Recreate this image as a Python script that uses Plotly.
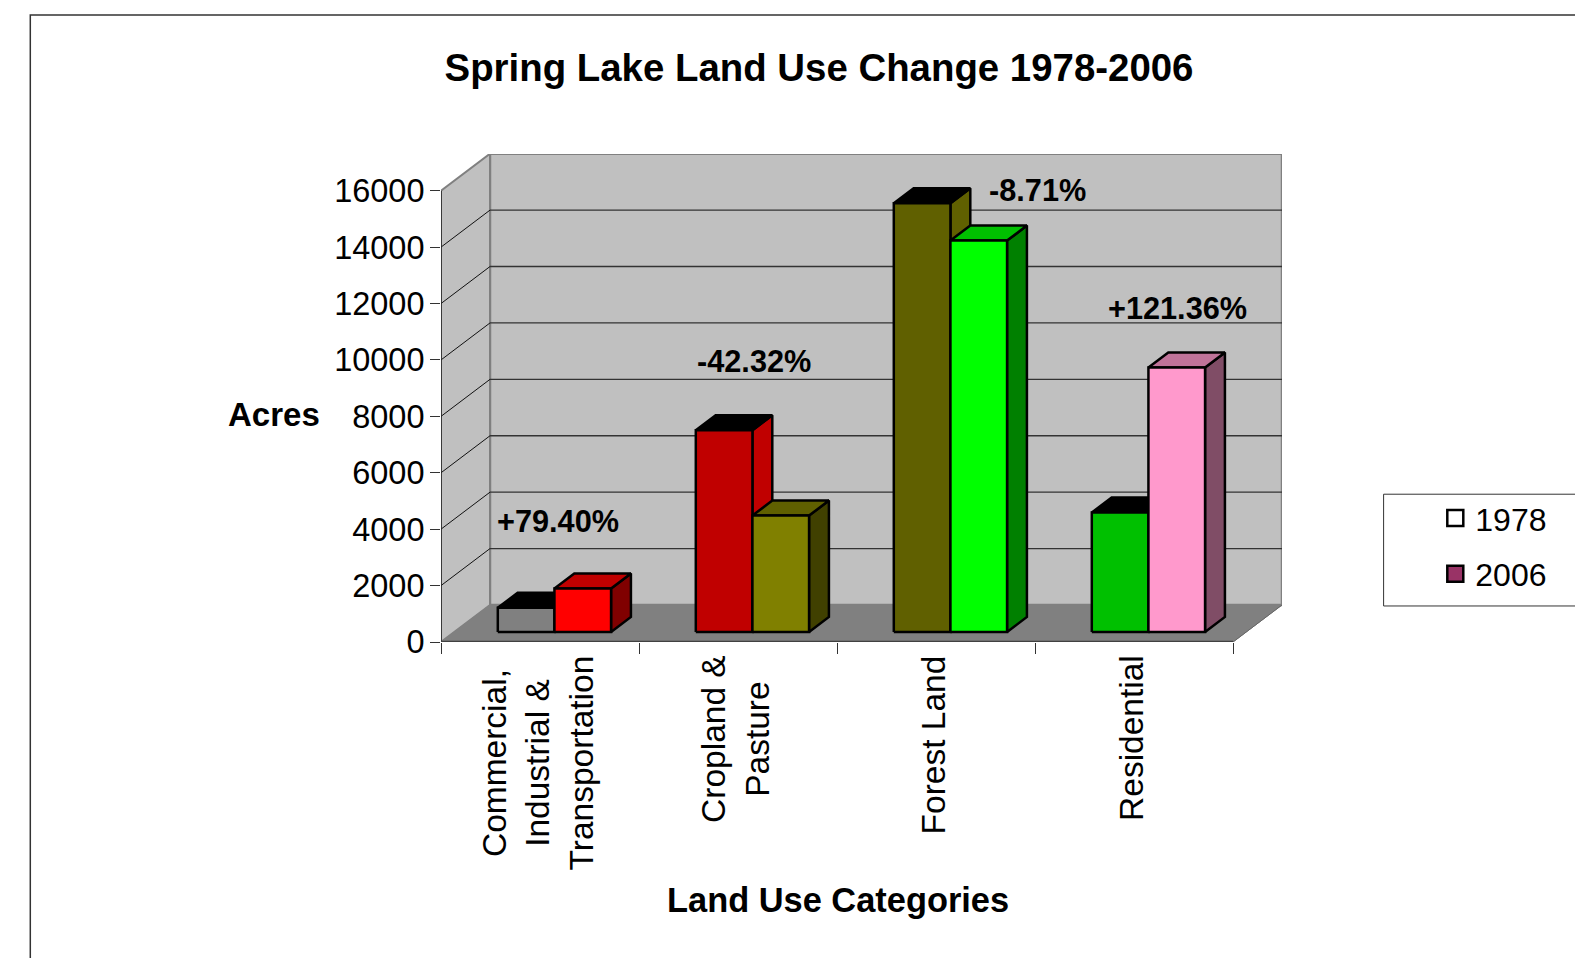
import plotly.graph_objects as go

# ---- data ----
categories = ["Commercial,<br>Industrial &<br>Transportation", "Cropland &<br>Pasture", "Forest Land", "Residential"]
values_1978 = [860, 7156, 15200, 4236]
values_2006 = [1543, 4128, 13876, 9377]
change_labels = ["+79.40%", "-42.32%", "-8.71%", "+121.36%"]
y_ticks = [0, 2000, 4000, 6000, 8000, 10000, 12000, 14000, 16000]
series_names = ["1978", "2006"]

# face colours per category: (front, top, side)
colors_1978 = [("#808080", "#000000", "#000000"), ("#C00000", "#000000", "#C00000"),
               ("#606000", "#000000", "#606000"), ("#00C000", "#000000", "#00C000")]
colors_2006 = [("#FF0000", "#C00000", "#800000"), ("#808000", "#606000", "#404000"),
               ("#00FF00", "#00C000", "#008000"), ("#FF99CC", "#C07399", "#804D66")]
legend_colors = ["#FFFFFF", "#993366"]

# ---- layout geometry (page pixels) ----
L, R, T, B = 440.7, 1281.7, 154.0, 641.7   # plot area incl. depth
CAT_PX = 198.0
VAL_PER_PX = 16000 / 451.0
DX = 49 / CAT_PX                # wall depth in category units
DY = 37 * VAL_PER_PX            # wall depth in value units
D0, D1 = 10 / 37, 25 / 37       # bar depth range (fraction of wall depth)
GAP, W = 0.22, 0.286            # bar offset and width in category units
FONT = "Liberation Sans, Arial, sans-serif"

def paper_x(p): return (p - L) / (R - L)
def paper_y(p): return (B - p) / (B - T)

fig = go.Figure()

def poly(xs, ys, fill, line="#000000", width=2.5):
    fig.add_trace(go.Scatter(x=xs + xs[:1], y=ys + ys[:1], mode="lines", fill="toself",
                             fillcolor=fill, line=dict(color=line, width=width),
                             hoverinfo="skip", showlegend=False, cliponaxis=False))

def seg(xs, ys, color, width):
    fig.add_trace(go.Scatter(x=xs, y=ys, mode="lines", line=dict(color=color, width=width),
                             hoverinfo="skip", showlegend=False, cliponaxis=False))

top_v = y_ticks[-1]
# walls and floor
poly([DX, 4 + DX, 4 + DX, DX], [DY, DY, top_v + DY, top_v + DY], "#C0C0C0", "#808080", 2.5)
poly([0, DX, DX, 0], [0, DY, top_v + DY, top_v], "#C0C0C0", "#808080", 2)
poly([0, 4, 4 + DX, DX], [0, 0, DY, DY], "#808080", "#808080", 1)

# gridlines
for v in y_ticks[1:-1]:
    seg([DX, 4 + DX], [v + DY, v + DY], "#333333", 1.3)
    seg([0, DX], [v, v + DY], "#111111", 1)
seg([4, 4 + DX], [0, DY], "#666666", 1)
seg([0, 0], [0, top_v], "#222222", 1.5)
seg([0, 4], [0, 0], "#404040", 2.5)

# 3-D bars, every face projected from the data values
def bar(i, s, val, cols):
    x0 = i + GAP + s * W + D0 * DX
    x1 = x0 + W
    b = D0 * DY
    ox = (D1 - D0) * DX
    oy = (D1 - D0) * DY
    front, top, side = cols
    poly([x1, x1 + ox, x1 + ox, x1], [b, b + oy, b + val + oy, b + val], side)
    poly([x0, x1, x1 + ox, x0 + ox], [b + val, b + val, b + val + oy, b + val + oy], top)
    poly([x0, x1, x1, x0], [b, b, b + val, b + val], front)

for i in range(len(categories)):
    bar(i, 0, values_1978[i], colors_1978[i])
    bar(i, 1, values_2006[i], colors_2006[i])

# legend entries
for k, name in enumerate(series_names):
    fig.add_trace(go.Scatter(x=[None], y=[None], mode="markers", name=name, legendgroup=name,
                             marker=dict(symbol="square", size=16, color=legend_colors[k],
                                         line=dict(color="#000000", width=2.5))))

ann = []
# category labels
for i, c in enumerate(categories):
    ann.append(dict(x=i + 0.5 - 0.012, y=paper_y(653), xref="x", yref="paper", text=c, textangle=-90,
                    showarrow=False, xanchor="center", yanchor="top", align="center",
                    font=dict(size=33.5, color="#000000", family=FONT)))
# change labels
label_px = [(558, 521.7), (753.4, 361.6), (1037, 190), (1177.5, 308.5)]
for t, (px, py) in zip(change_labels, label_px):
    ann.append(dict(x=paper_x(px), y=paper_y(py), xref="paper", yref="paper", text="<b>%s</b>" % t,
                    showarrow=False, xanchor="center", yanchor="middle",
                    font=dict(size=30.7, color="#000000", family=FONT)))
ann.append(dict(x=paper_x(274), y=paper_y(414), xref="paper", yref="paper", text="<b>Acres</b>",
                showarrow=False, xanchor="center", yanchor="middle",
                font=dict(size=33, color="#000000", family=FONT)))
ann.append(dict(x=paper_x(838), y=paper_y(900), xref="paper", yref="paper", text="<b>Land Use Categories</b>",
                showarrow=False, xanchor="center", yanchor="middle",
                font=dict(size=34.4, color="#000000", family=FONT)))

shapes = [
    dict(type="rect", xref="paper", yref="paper", x0=paper_x(30), x1=paper_x(1750), y0=paper_y(15), y1=paper_y(1150),
         line=dict(color="#333333", width=1.5), layer="below"),
    dict(type="rect", xref="paper", yref="paper", x0=paper_x(1383.3), x1=paper_x(1750), y0=paper_y(494), y1=paper_y(605.7),
         line=dict(color="#333333", width=1), fillcolor="#FFFFFF", layer="below"),
]

fig.update_layout(
    width=1575, height=958,
    margin=dict(l=L, r=1575 - R, t=T, b=958 - B, autoexpand=False, pad=0),
    paper_bgcolor="#FFFFFF", plot_bgcolor="rgba(0,0,0,0)",
    font=dict(family=FONT, color="#000000"),
    title=dict(text="<b>Spring Lake Land Use Change 1978-2006</b>", x=819 / 1575, xanchor="center",
               y=1 - 68 / 958, yanchor="middle", font=dict(size=38.4, family=FONT, color="#000000")),
    xaxis=dict(range=[0, 4 + DX], tickmode="array", tickvals=[0, 1, 2, 3, 4], ticktext=["", "", "", "", ""],
               ticks="outside", ticklen=11, tickwidth=1, tickcolor="#333333",
               showgrid=False, zeroline=False, showline=False, fixedrange=True),
    yaxis=dict(range=[0, (B - T) * VAL_PER_PX], tickmode="array", tickvals=y_ticks,
               ticktext=[str(v) for v in y_ticks], ticks="outside", ticklen=10, tickwidth=1, tickcolor="#333333",
               ticklabelstandoff=-1, showgrid=False, zeroline=False, showline=False, fixedrange=True,
               tickfont=dict(size=32.5, family=FONT, color="#000000")),
    legend=dict(x=paper_x(1435), y=paper_y(546), xanchor="left", yanchor="middle",
                bgcolor="rgba(0,0,0,0)", borderwidth=0, tracegroupgap=11, traceorder="grouped",
                font=dict(size=32, family=FONT, color="#000000"), itemsizing="trace"),
    annotations=ann, shapes=shapes,
)

fig.write_html("out.html", post_script="document.body.style.margin='0';",
               config={"displayModeBar": False})
